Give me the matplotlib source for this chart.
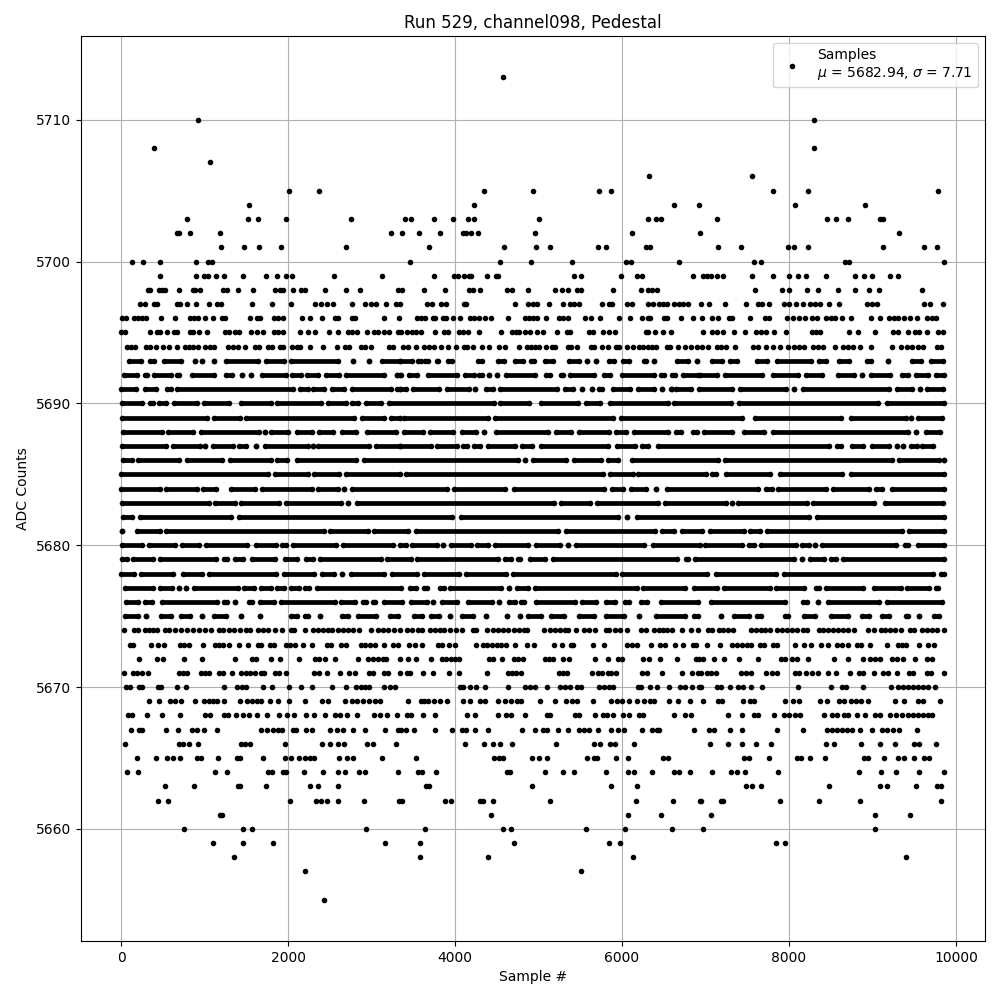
#!/usr/bin/env python3
# ADC pedestal samples.
# Sparse levels are kept as single samples. In the dense levels the dots overlap
# into bars, so those are kept as (first, last) sample of each solid stretch.
import matplotlib
matplotlib.use('Agg')
import matplotlib.pyplot as plt

# ── sparse levels: sample numbers per ADC value ────────────────
s5713 = [4576]
s5710 = [922, 8302]
s5708 = [394, 8302]
s5707 = [1066]
s5706 = [6328, 7558]
s5705 = [2014, 2374, 4348, 4936, 5728, 5872, 7810, 8230, 9790]
s5704 = [1534, 4228, 6628, 6916, 8074, 8914]
s5703 = [790, 1522, 1642, 1978, 2758, 3400, 3472, 3748, 3976, 4156, 4228, 5008, 6316, 6412, 6472,
         7138, 8458, 8566, 8710, 9094, 9130]
s5702 = [670, 694, 826, 1186, 3238, 3364, 3568, 3820, 4096, 4132, 4192, 4276, 4960, 6124, 6928, 9322]
s5701 = [1198, 1474, 1654, 1918, 2698, 3688, 4588, 4972, 5140, 5716, 5812, 6292, 6340, 7150, 7426,
         7990, 8062, 8230, 9130, 9622, 9778]
s5700 = [130, 262, 466, 898, 1042, 1090, 3460, 4540, 4912, 5404, 6052, 6112, 6688, 7582, 7666, 8674,
         8722, 9856]
s5699 = [466, 898, 994, 1042, 1138, 1234, 1462, 1738, 1870, 1978, 2050, 2554, 3130, 3748, 3988, 4036,
         4108, 4168, 4192, 4384, 4492, 4516, 5428, 5512, 5992, 6184, 6244, 6844, 6970, 7018, 7066, 7138,
         7210, 7558, 7810, 8002, 8110, 8206, 8446, 8794, 8902, 8998, 9214, 9310]
s5698 = [322, 342, 454, 486, 526, 694, 862, 886, 946, 1222, 1270, 1402, 1582, 1846, 1906, 1942, 2062,
         2158, 2206, 2446, 2698, 2866, 3322, 3364, 3628, 3880, 4168, 4216, 4300, 4624, 4684, 4876, 5200,
         5276, 5356, 5464, 5512, 5896, 6232, 6316, 6364, 6424, 7594, 7918, 8002, 8218, 8350, 8590, 8794,
         8962, 9082, 9598]
s5697 = [226, 286, 394, 430, 670, 702, 790, 898, 1054, 1150, 1198, 1570, 1810, 2038, 2326, 2398, 2470,
         2542, 2770, 2926, 2998, 3054, 3178, 3298, 3340, 3664, 3724, 3832, 3892, 4108, 4132, 4720, 4876,
         4936, 4984, 5128, 5296, 5380, 5428, 5488, 5764, 5848, 5884, 6064, 6124, 6316, 6376, 6448, 6496,
         6544, 6628, 6688, 6736, 6784, 6946, 7042, 7234, 7486, 7630, 7678, 7762, 7942, 8002, 8086, 8170,
         8254, 8314, 8374, 8482, 8602, 8938, 8998, 9058, 9622, 9694, 9838]
s5696 = [10, 54, 154, 202, 250, 298, 478, 646, 826, 874, 922, 1006, 1102, 1210, 1246, 1546, 1630, 1662,
         1834, 1882, 1942, 2170, 2266, 2410, 2566, 2602, 2770, 2806, 3154, 3334, 3544, 3592, 3640, 3736,
         3760, 3856, 3892, 3976, 4056, 4180, 4228, 4288, 4360, 4432, 4636, 4840, 4888, 4936, 4984, 5092,
         5248, 5296, 5356, 5560, 5632, 5740, 5968, 6100, 6244, 6316, 6340, 6508, 6544, 6712, 6844, 6958,
         7078, 7150, 7282, 7318, 7530, 7714, 7762, 7978, 8050, 8122, 8194, 8278, 8338, 8446, 8506, 8554,
         8638, 8746, 8986, 9094, 9202, 9262, 9310, 9382, 9454, 9538, 9658, 9718, 9766]
s5695 = [0, 50, 346, 430, 462, 550, 634, 670, 826, 862, 934, 1030, 1246, 1294, 1366, 1414, 1558, 1630,
         1702, 1834, 1882, 1942, 2146, 2242, 2326, 2494, 2602, 2722, 2770, 2830, 2950, 3034, 3082, 3154,
         3214, 3322, 3352, 3424, 3484, 3532, 3592, 3760, 3868, 3916, 4048, 4096, 4156, 4288, 4552, 4684,
         4732, 4768, 4840, 4900, 4984, 5056, 5224, 5344, 5380, 5608, 5656, 5776, 5848, 5920, 6292, 6316,
         6400, 6496, 6592, 6970, 7078, 7138, 7210, 7342, 7474, 7606, 7666, 7726, 7822, 7966, 8278, 8326,
         8374, 8722, 8830, 9034, 9250, 9310, 9430, 9514, 9562, 9658, 9790, 9838]
s5694 = [70, 118, 166, 298, 342, 418, 502, 574, 670, 766, 814, 862, 922, 1006, 1070, 1114, 1282, 1342,
         1402, 1486, 1606, 1654, 1762, 1810, 1902, 1942, 2050, 2102, 2146, 2266, 2422, 2590, 2686, 2734,
         2878, 2926, 2998, 3214, 3262, 3376, 3436, 3532, 3628, 3688, 3748, 3832, 3916, 4012, 4108, 4144,
         4216, 4324, 4408, 4528, 4600, 4768, 4864, 4912, 4960, 5008, 5092, 5164, 5200, 5356, 5392, 5464,
         5632, 5668, 5764, 5836, 5932, 5968, 6064, 6136, 6208, 6256, 6316, 6364, 6412, 6544, 6580, 6676,
         6748, 6820, 6892, 6958, 7030, 7138, 7186, 7246, 7354, 7570, 7630, 7726, 7810, 7894, 7990, 8062,
         8122, 8182, 8290, 8350, 8410, 8554, 8650, 8710, 8770, 8854, 8986, 9238, 9346, 9418, 9478, 9550,
         9610, 9778, 9826]
s5674 = [34, 154, 202, 286, 334, 382, 430, 526, 574, 646, 718, 790, 862, 934, 1006, 1078, 1174, 1222,
         1294, 1354, 1426, 1498, 1546, 1642, 1702, 1762, 1846, 1926, 2038, 2074, 2206, 2302, 2362, 2422,
         2482, 2530, 2602, 2662, 2722, 2782, 2854, 2998, 3082, 3142, 3202, 3274, 3340, 3424, 3484, 3556,
         3604, 3700, 3760, 3820, 3868, 3940, 4012, 4084, 4216, 4252, 4384, 4456, 4516, 4576, 4636, 4708,
         4768, 4828, 4864, 5068, 5140, 5200, 5260, 5320, 5356, 5452, 5548, 5608, 5680, 5812, 5848, 5920,
         5980, 6064, 6232, 6292, 6388, 6448, 6496, 6544, 6604, 6724, 6820, 6904, 7030, 7078, 7162, 7210,
         7270, 7330, 7546, 7606, 7666, 7714, 7774, 7858, 7918, 7978, 8038, 8098, 8170, 8218, 8362, 8410,
         8470, 8530, 8590, 8650, 8710, 8782, 8950, 9022, 9106, 9154, 9214, 9274, 9346, 9454, 9502, 9598,
         9658, 9718, 9778, 9850]
s5673 = [106, 142, 358, 442, 514, 706, 754, 814, 982, 1126, 1174, 1222, 1294, 1414, 1522, 1642, 1678,
         1786, 1834, 1978, 2026, 2086, 2182, 2290, 2470, 2518, 2638, 2698, 2878, 2926, 2986, 3046, 3154,
         3262, 3322, 3448, 3520, 3604, 3796, 3844, 3928, 4000, 4252, 4336, 4384, 4444, 4504, 4552, 4612,
         4720, 4864, 4948, 5188, 5284, 5392, 5416, 5656, 5788, 6064, 6124, 6184, 6352, 6460, 6520, 6640,
         6736, 6844, 6880, 7018, 7174, 7318, 7378, 7438, 7498, 7546, 7654, 7702, 7810, 7858, 8074, 8182,
         8266, 8386, 8470, 8578, 8638, 8710, 8818, 8866, 8974, 9178, 9310, 9358, 9406, 9562, 9670, 9742]
s5672 = [214, 430, 502, 754, 970, 1366, 1570, 1618, 1798, 1906, 2134, 2326, 2374, 2446, 2566, 2842, 2962,
         3022, 3082, 3142, 3178, 3340, 3436, 3532, 3712, 3844, 3892, 3952, 4000, 4048, 4408, 4456, 4564,
         4708, 4756, 4816, 5080, 5128, 5176, 5296, 5368, 5680, 5836, 5956, 6004, 6256, 6328, 6460, 6664,
         6880, 6916, 6970, 7102, 7222, 7402, 7630, 7906, 7954, 8038, 8098, 8230, 8542, 8710, 8890, 8974,
         9034, 9094, 9238, 9298, 9370, 9514, 9658, 9718]
s5671 = [34, 142, 190, 250, 322, 694, 742, 790, 958, 1006, 1054, 1174, 1222, 1330, 1438, 1498, 1546, 1606,
         1678, 1714, 1846, 1894, 1978, 2314, 2374, 2470, 2626, 2734, 2806, 2974, 3022, 3154, 3202, 3340,
         3424, 3460, 3616, 3736, 3928, 4048, 4384, 4636, 4684, 4732, 4792, 5248, 5296, 5344, 5644, 5716,
         5764, 5836, 5872, 5932, 6244, 6304, 6484, 6724, 6832, 6904, 6946, 7018, 7066, 7126, 7426, 7486,
         7546, 7726, 7798, 7858, 8074, 8122, 8206, 8278, 8350, 8470, 8566, 8734, 8842, 8890, 9022, 9130,
         9190, 9298, 9442, 9490, 9658, 9706, 9850]
s5670 = [58, 106, 214, 250, 442, 478, 670, 778, 1234, 1390, 1450, 1498, 1702, 1810, 2014, 2158, 2290, 2530,
         2698, 2818, 2878, 2926, 2974, 3154, 3226, 3286, 4060, 4096, 4180, 4252, 4360, 4636, 4840, 4900,
         4960, 5104, 5260, 5320, 5380, 5464, 5512, 5728, 5788, 5848, 5896, 6196, 6232, 6340, 6424, 6568,
         6700, 6748, 6832, 6916, 6946, 7138, 7186, 7294, 7390, 7450, 7546, 7678, 8110, 8506, 8638, 8686,
         8890, 9226, 9310, 9370, 9430, 9490, 9550, 9610, 9670, 9754]
s5669 = [334, 454, 586, 646, 718, 886, 994, 1054, 1102, 1150, 1234, 1426, 1510, 1570, 1630, 1678, 1786,
         1882, 2014, 2206, 2410, 2482, 2686, 2770, 2830, 2902, 2974, 3046, 3106, 3436, 3592, 3628, 3676,
         3748, 3820, 3904, 4096, 4180, 4300, 4360, 4516, 4600, 4672, 4744, 4792, 5020, 5200, 5332, 5404,
         5464, 5656, 5872, 5944, 6004, 6088, 6184, 6268, 6340, 6388, 6568, 6676, 6808, 6970, 7150, 7198,
         7450, 7534, 7582, 7954, 8050, 8122, 8374, 8458, 8602, 8662, 8746, 8806, 8866, 8950, 9274, 9382,
         9550, 9610, 9814]
s5668 = [82, 130, 310, 490, 706, 1006, 1066, 1234, 1282, 1378, 1462, 1534, 1630, 1750, 1894, 1990, 2074,
         2218, 2314, 2446, 2566, 2626, 2710, 2830, 3034, 3106, 3190, 3310, 3424, 3472, 3616, 3760, 4144,
         4240, 4516, 4612, 4672, 4840, 5104, 5140, 5440, 5488, 5680, 5776, 5824, 5896, 6016, 6088, 6208,
         6256, 6628, 6748, 6820, 7270, 7438, 7582, 7630, 7822, 7942, 8002, 8074, 8134, 8422, 8518, 8578,
         8662, 8710, 8818, 8914, 9034, 9094, 9214, 9286, 9358, 9430, 9490, 9550, 9610, 9670, 9718]
s5667 = [118, 214, 250, 538, 682, 850, 910, 994, 1150, 1678, 1750, 1822, 1882, 1930, 2062, 2098, 2218, 2290,
         2506, 2590, 2662, 2782, 2926, 3166, 3322, 3352, 3412, 3508, 3760, 3964, 4084, 4132, 4240, 4396,
         4804, 4960, 5056, 5104, 5236, 5356, 5488, 5548, 5608, 5716, 5872, 5956, 6028, 6240, 6364, 6424,
         6448, 6856, 7042, 7102, 7294, 7438, 7858, 8170, 8458, 8518, 8578, 8638, 8698, 8758, 8854, 8998,
         9118, 9178, 9250, 9322, 9538]
s5666 = [46, 694, 742, 814, 922, 1438, 1486, 1546, 1966, 2410, 2506, 2602, 2674, 2950, 3022, 3298, 4120,
         4348, 4456, 4540, 4684, 5212, 5668, 5740, 5860, 5920, 6148, 7054, 7270, 7438, 7606, 7786, 8446,
         8542, 8866, 9094, 9270, 9502, 9562, 9766]
s5665 = [190, 418, 550, 622, 706, 910, 958, 1162, 1390, 1426, 1702, 1966, 2038, 2134, 2206, 2266, 2314,
         2614, 2710, 2782, 3130, 3532, 4468, 4528, 4576, 4924, 5008, 5104, 5584, 5668, 5704, 5932, 6076,
         6496, 6556, 7462, 7522, 7762, 8098, 8146, 8254, 8434, 8902, 8950, 9142, 9310, 9382, 9502, 9622,
         9682]
s5664 = [70, 202, 1126, 1270, 1762, 1810, 1942, 1978, 2194, 2422, 2602, 2686, 2854, 2926, 3322, 3556, 3604,
         3772, 4624, 4660, 5080, 5296, 5428, 5812, 6076, 6148, 6364, 6628, 6688, 6808, 7078, 7306, 7378,
         7474, 7870, 8842, 9106, 9286, 9562, 9856]
s5663 = [526, 874, 1402, 1426, 1738, 2266, 2362, 2602, 3652, 3688, 4924, 5872, 6184, 7486, 7558, 7666, 8482,
         9094, 9178, 9526, 9778, 9826]
s5662 = [442, 562, 2026, 2338, 2398, 2470, 2602, 2914, 3334, 3364, 3880, 3952, 4300, 4336, 4456, 5140, 6172,
         6616, 6928, 6946, 7186, 7210, 7894, 8362, 8854, 9826]
s5661 = [1186, 1210, 4432, 6076, 6472, 7066, 9034, 9454]
s5660 = [754, 1462, 1570, 2938, 3640, 4576, 4672, 5572, 6040, 6604, 6970, 9034]
s5659 = [1102, 1462, 1822, 3166, 3580, 4708, 5848, 5980, 7846, 7954]
s5658 = [1354, 3580, 4396, 6136, 9406]
s5657 = [2206, 5512]
s5655 = [2434]

sparse_levels = [5713, 5710, 5708, 5707, 5706, 5705, 5704, 5703, 5702, 5701, 5700, 5699, 5698, 5697, 5696,
                 5695, 5694, 5674, 5673, 5672, 5671, 5670, 5669, 5668, 5667, 5666, 5665, 5664, 5663, 5662,
                 5661, 5660, 5659, 5658, 5657, 5655]
sparse_samples = [s5713, s5710, s5708, s5707, s5706, s5705, s5704, s5703, s5702, s5701, s5700, s5699, s5698,
                  s5697, s5696, s5695, s5694, s5674, s5673, s5672, s5671, s5670, s5669, s5668, s5667, s5666,
                  s5665, s5664, s5663, s5662, s5661, s5660, s5659, s5658, s5657, s5655]

# ── dense levels: (first, last) sample of each solid stretch ───
r5693 = [(90, 234), (350, 394), (510, 714), (890, 890), (970, 970), (1110, 1110), (1258, 1634), (1730, 1954),
         (2030, 2594), (2782, 2782), (2970, 2970), (3130, 3342), (3340, 3490), (3560, 3590), (3640, 3670),
         (3780, 3800), (3910, 3960), (4276, 4328), (4516, 4588), (4716, 4808), (4904, 4948), (5076, 5168),
         (5364, 5488), (5584, 5584), (5684, 5684), (5844, 5908), (6012, 6088), (6264, 6288), (6384, 6384),
         (6664, 6788), (6896, 6896), (7078, 7202), (7298, 7382), (7618, 7742), (7858, 8262), (8358, 8442),
         (8598, 8722), (8938, 8982), (9186, 9186), (9478, 9582), (9698, 9842)]
r5692 = [(30, 194), (282, 314), (390, 594), (670, 694), (850, 1114), (1258, 1334), (1450, 1450), (1562, 1562),
         (1690, 1974), (2050, 2154), (2230, 2354), (2450, 2614), (2698, 3154), (3310, 3310), (3336, 3348),
         (3452, 3548), (3676, 4028), (4124, 4228), (4292, 4328), (4408, 4408), (4504, 4504), (4612, 4956),
         (5084, 5140), (5264, 5288), (5372, 5668), (5784, 5860), (5996, 6388), (6464, 6500), (6596, 6636),
         (6736, 6908), (6930, 7142), (7230, 7682), (7806, 8102), (8206, 8390), (8590, 8782), (8878, 8878),
         (8978, 9214), (9358, 9430), (9526, 9670), (9758, 9854)]
r5691 = [(0, 174), (290, 414), (550, 594), (670, 2054), (2138, 2234), (2298, 2434), (2530, 2666), (2770, 3234),
         (3310, 3342), (3336, 3408), (3492, 3808), (3904, 4168), (4244, 4244), (4372, 4460), (4544, 5220),
         (5312, 5408), (5524, 5524), (5640, 5640), (5724, 5756), (5892, 6100), (6196, 6388), (6484, 6484),
         (6584, 6596), (6652, 6828), (6916, 7322), (7418, 7962), (8062, 8062), (8170, 9202), (9298, 9470),
         (9570, 9570), (9650, 9842)]
r5690 = [(10, 254), (350, 386), (458, 542), (630, 914), (990, 1294), (1434, 1794), (1870, 2394), (2482, 2694),
         (2770, 2834), (2930, 3114), (3210, 4468), (4544, 4888), (5032, 5476), (5564, 5740), (5852, 6548),
         (6624, 7302), (7406, 9062), (9178, 9854)]
r5689 = [(10, 1026), (1110, 1426), (1502, 2794), (2882, 3154), (3230, 3342), (3384, 4396), (4484, 5888),
         (5984, 7434), (7598, 8622), (8746, 9402), (9466, 9466), (9550, 9830)]
r5688 = [(22, 494), (562, 866), (958, 1654), (1718, 1718), (1798, 2002), (2110, 2282), (2370, 2534), (2642, 2814),
         (2950, 3294), (3384, 3620), (3704, 3980), (4084, 4256), (4352, 4352), (4492, 5116), (5204, 5388),
         (5484, 5848), (5924, 6048), (6144, 6556), (6652, 6708), (6844, 6896), (6978, 7322), (7458, 7702),
         (7810, 9422), (9522, 9522), (9646, 9810)]
r5687 = [(10, 534), (618, 946), (1010, 1010), (1102, 1346), (1418, 1502), (1618, 1618), (1718, 2234), (2294, 2294),
         (2362, 2974), (3058, 3342), (3336, 3708), (3784, 4020), (4092, 4148), (4224, 4296), (4396, 4716),
         (4796, 4916), (5032, 5828), (5944, 6156), (6244, 6308), (6436, 8482), (8578, 8622), (8758, 8882),
         (8998, 9202), (9290, 9290), (9370, 9370), (9466, 9530), (9598, 9722)]
r5686 = [(22, 134), (202, 694), (790, 1214), (1310, 1794), (1870, 1986), (2110, 2814), (2910, 4756), (4836, 4836),
         (4932, 5328), (5424, 5748), (5832, 5956), (6116, 7150), (7238, 9230), (9318, 9802), (9858, 9858)]
r5685 = [(0, 1762), (1838, 2234), (2310, 2614), (2698, 3342), (3412, 5768), (5852, 6128), (6196, 7002),
         (7078, 7130), (7246, 7774), (7886, 8630), (8738, 9858)]
r5684 = [(0, 466), (538, 906), (978, 1142), (1318, 1606), (1690, 2282), (2358, 2594), (2670, 2670), (2770, 3908),
         (3984, 4596), (4704, 5780), (5876, 6008), (6104, 6288), (6412, 6412), (6536, 7634), (7726, 7790),
         (7870, 8442), (8526, 8962), (9038, 9110), (9238, 9854)]
r5683 = [(10, 1054), (1122, 1362), (1438, 1894), (1978, 2634), (2722, 2722), (2830, 5180), (5264, 5620),
         (5696, 6428), (6512, 7242), (7314, 7314), (7390, 8214), (8286, 9014), (9146, 9842)]
r5682 = [(22, 134), (230, 1322), (1418, 3968), (4072, 5948), (6056, 6056), (6176, 8242), (8338, 9854)]
r5681 = [(10, 10), (190, 462), (538, 2426), (2502, 2954), (3030, 3436), (3532, 5228), (5332, 6396), (6484, 6620),
         (6716, 6962), (7058, 7462), (7538, 7654), (7738, 9350), (9438, 9854)]
r5680 = [(10, 254), (338, 642), (730, 934), (1018, 1506), (1618, 1854), (1922, 1974), (2058, 2574), (2662, 3254),
         (3342, 3408), (3484, 3788), (3860, 3860), (3956, 4196), (4264, 4396), (4476, 4868), (4964, 5260),
         (5348, 5348), (5444, 6268), (6376, 6936), (6990, 7442), (7518, 7582), (7670, 8082), (8150, 8234),
         (8310, 8310), (8390, 9282), (9386, 9430), (9546, 9854)]
r5679 = [(10, 74), (138, 386), (470, 1134), (1230, 1274), (1362, 1466), (1570, 1842), (1958, 2102), (2218, 2294),
         (2378, 3114), (3190, 3468), (3544, 4516), (4604, 4668), (4748, 4780), (4892, 5076), (5172, 6660),
         (6764, 6788), (6876, 8054), (8158, 8158), (8246, 8414), (8498, 8562), (8646, 9854)]
r5678 = [(0, 154), (238, 626), (742, 974), (1050, 1854), (1950, 2314), (2410, 2554), (2642, 2642), (2750, 3154),
         (3242, 3540), (3624, 4048), (4132, 4608), (4692, 5928), (6004, 7022), (7126, 7842), (7938, 9722),
         (9818, 9854)]
r5677 = [(50, 386), (470, 614), (690, 690), (774, 774), (874, 1402), (1470, 1586), (1670, 1794), (1870, 1954),
         (2030, 2126), (2202, 2254), (2350, 3348), (3464, 3528), (3624, 3660), (3824, 3868), (3944, 4556),
         (4652, 4652), (4744, 4868), (4952, 6180), (6252, 6756), (6864, 7142), (7218, 7774), (7846, 8174),
         (8326, 8362), (8438, 8882), (9018, 9342), (9418, 9682), (9758, 9790)]
r5676 = [(62, 202), (282, 374), (490, 1146), (1230, 1274), (1362, 1362), (1538, 1574), (1658, 1834), (1910, 2562),
         (2630, 2802), (2898, 2934), (3018, 3042), (3150, 3364), (3472, 3668), (3736, 3736), (3844, 4028),
         (4152, 4448), (4528, 4528), (4652, 4716), (4792, 4820), (4964, 5436), (5524, 5688), (5812, 5916),
         (6036, 6088), (6224, 6300), (6464, 6908), (7066, 7950), (8166, 8214), (8342, 8342), (8470, 9082),
         (9178, 9830)]
r5675 = [(50, 202), (302, 302), (482, 602), (718, 826), (974, 974), (1110, 1254), (1442, 1442), (1658, 1658),
         (2030, 2106), (2202, 2234), (2386, 2386), (2650, 2714), (2842, 3054), (3218, 3314), (3504, 3608),
         (3716, 3808), (3940, 3940), (4084, 4220), (4376, 4376), (4624, 4624), (4780, 4780), (4876, 5028),
         (5144, 5308), (5484, 5668), (5804, 6028), (6208, 6208), (6412, 6748), (6864, 6908), (7186, 7186),
         (7346, 7522), (7618, 7670), (7950, 7990), (8178, 8310), (8498, 8702), (8870, 8962), (9110, 9202),
         (9398, 9422), (9558, 9558), (9738, 9802)]

dense_levels = [5693, 5692, 5691, 5690, 5689, 5688, 5687, 5686, 5685, 5684, 5683, 5682, 5681, 5680, 5679,
                5678, 5677, 5676, 5675]
dense_runs = [r5693, r5692, r5691, r5690, r5689, r5688, r5687, r5686, r5685, r5684, r5683, r5682, r5681,
              r5680, r5679, r5678, r5677, r5676, r5675]

# ── 圖 ─────────────────────────────────────────────────────────
fig, ax = plt.subplots(figsize=(10, 10))

xs, ys = [], []
for level, samples in zip(sparse_levels, sparse_samples):
    xs += samples
    ys += [level] * len(samples)
for level, runs in zip(dense_levels, dense_runs):
    for a, b in runs:
        xs += [a, b]
        ys += [level, level]
        if b > a:
            ax.hlines(level, a, b, color='k', linewidth=3.4, capstyle='butt', zorder=2)

ax.plot(xs, ys, 'k.', label='Samples\n$\\mu$ = 5682.94, $\\sigma$ = 7.71')

ax.set_xlim(-480, 10347)
ax.set_ylim(5652.1, 5715.9)
ax.set_xlabel('Sample #')
ax.set_ylabel('ADC Counts')
ax.set_title('Run 529, channel098, Pedestal')
ax.grid(True)
ax.legend(loc='upper right')

fig.subplots_adjust(left=0.081, right=0.985, top=0.964, bottom=0.059)
plt.savefig('out.png', dpi=100)
plt.close()
